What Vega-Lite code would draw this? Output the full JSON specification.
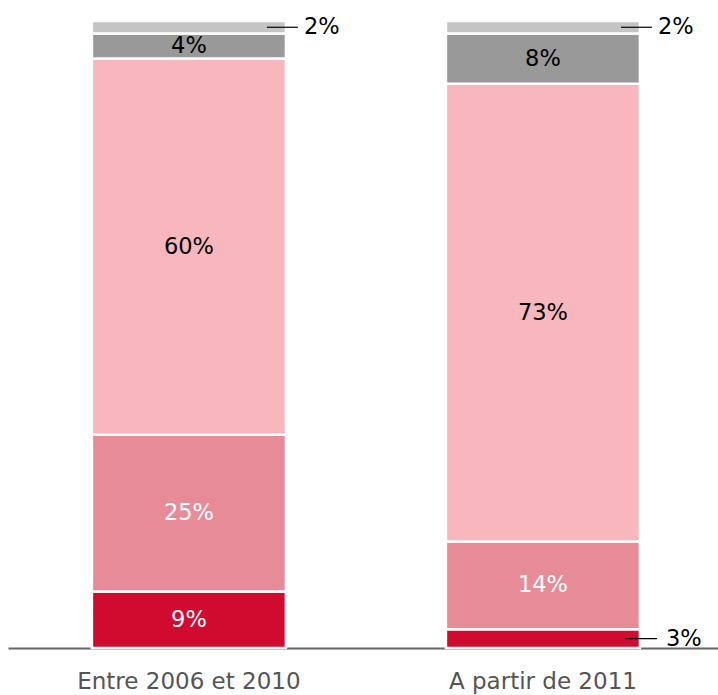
{
  "$schema": "https://vega.github.io/schema/vega-lite/v6.json",
  "width": 710,
  "height": 648,
  "autosize": "none",
  "padding": {"left": 8, "top": 0, "right": 0, "bottom": 47},
  "background": "white",
  "config": {"view": {"stroke": null}, "font": "DejaVu Sans"},
  "data": {
    "values": [
      {"period": "Entre 2006 et 2010", "segment": "Catégorie 1", "k": 1, "value": 9},
      {"period": "Entre 2006 et 2010", "segment": "Catégorie 2", "k": 2, "value": 25},
      {"period": "Entre 2006 et 2010", "segment": "Catégorie 3", "k": 3, "value": 60},
      {"period": "Entre 2006 et 2010", "segment": "Catégorie 4", "k": 4, "value": 4},
      {"period": "Entre 2006 et 2010", "segment": "Catégorie 5", "k": 5, "value": 2},
      {"period": "A partir de 2011", "segment": "Catégorie 1", "k": 1, "value": 3},
      {"period": "A partir de 2011", "segment": "Catégorie 2", "k": 2, "value": 14},
      {"period": "A partir de 2011", "segment": "Catégorie 3", "k": 3, "value": 73},
      {"period": "A partir de 2011", "segment": "Catégorie 4", "k": 4, "value": 8},
      {"period": "A partir de 2011", "segment": "Catégorie 5", "k": 5, "value": 2}
    ]
  },
  "transform": [
    {"stack": "value", "groupby": ["period"], "sort": [{"field": "k", "order": "ascending"}], "as": ["v0", "v1"]},
    {"calculate": "(datum.v0 + datum.v1) / 2", "as": "mid"},
    {"calculate": "datum.value + '%'", "as": "label"}
  ],
  "encoding": {
    "x": {
      "field": "period",
      "type": "nominal",
      "sort": ["Entre 2006 et 2010", "A partir de 2011"],
      "scale": {"paddingInner": 0.452, "paddingOuter": 0.2288, "align": 0.518},
      "axis": {
        "title": null,
        "labelAngle": 0,
        "labelFontSize": 23,
        "labelFont": "DejaVu Sans",
        "labelColor": "#555555",
        "labelPadding": 22,
        "labelLimit": 0,
        "ticks": false,
        "domainColor": "#666666",
        "domainWidth": 2
      }
    }
  },
  "layer": [
    {
      "mark": {"type": "bar", "stroke": "white", "strokeWidth": 2.5},
      "encoding": {
        "y": {"field": "v0", "type": "quantitative", "scale": {"domain": [0, 103.35], "nice": false, "zero": true}, "axis": null},
        "y2": {"field": "v1"},
        "color": {
          "field": "segment",
          "type": "nominal",
          "scale": {
            "domain": ["Catégorie 1", "Catégorie 2", "Catégorie 3", "Catégorie 4", "Catégorie 5"],
            "range": ["#D10B2F", "#E88B98", "#F7B7BC", "#999999", "#C4C4C4"]
          },
          "legend": null
        }
      }
    },
    {
      "transform": [{"filter": "datum.value >= 4"}],
      "mark": {"type": "text", "fontSize": 22.5, "baseline": "middle"},
      "encoding": {
        "y": {"field": "mid", "type": "quantitative"},
        "text": {"field": "label"},
        "color": {"condition": {"test": "datum.k <= 2", "value": "white"}, "value": "black"}
      }
    },
    {
      "transform": [{"filter": "datum.value < 4 && datum.k == 5"}],
      "mark": {"type": "rule", "color": "black", "strokeWidth": 1.2, "xOffset": -19, "x2Offset": 12},
      "encoding": {
        "x": {"field": "period", "type": "nominal", "sort": ["Entre 2006 et 2010", "A partir de 2011"], "bandPosition": 1},
        "x2": {"field": "period", "bandPosition": 1},
        "y": {"field": "mid", "type": "quantitative"}
      }
    },
    {
      "transform": [{"filter": "datum.value < 4 && datum.k == 1"}],
      "mark": {"type": "rule", "color": "black", "strokeWidth": 1.2, "xOffset": -15, "x2Offset": 17},
      "encoding": {
        "x": {"field": "period", "type": "nominal", "sort": ["Entre 2006 et 2010", "A partir de 2011"], "bandPosition": 1},
        "x2": {"field": "period", "bandPosition": 1},
        "y": {"field": "mid", "type": "quantitative"}
      }
    },
    {
      "transform": [{"filter": "datum.value < 4 && datum.k == 5"}],
      "mark": {"type": "text", "fontSize": 22.5, "baseline": "middle", "align": "left", "dx": 18, "color": "black"},
      "encoding": {
        "x": {"field": "period", "type": "nominal", "sort": ["Entre 2006 et 2010", "A partir de 2011"], "bandPosition": 1},
        "y": {"field": "mid", "type": "quantitative"},
        "text": {"field": "label"}
      }
    },
    {
      "transform": [{"filter": "datum.value < 4 && datum.k == 1"}],
      "mark": {"type": "text", "fontSize": 22.5, "baseline": "middle", "align": "left", "dx": 26, "color": "black"},
      "encoding": {
        "x": {"field": "period", "type": "nominal", "sort": ["Entre 2006 et 2010", "A partir de 2011"], "bandPosition": 1},
        "y": {"field": "mid", "type": "quantitative"},
        "text": {"field": "label"}
      }
    }
  ]
}
